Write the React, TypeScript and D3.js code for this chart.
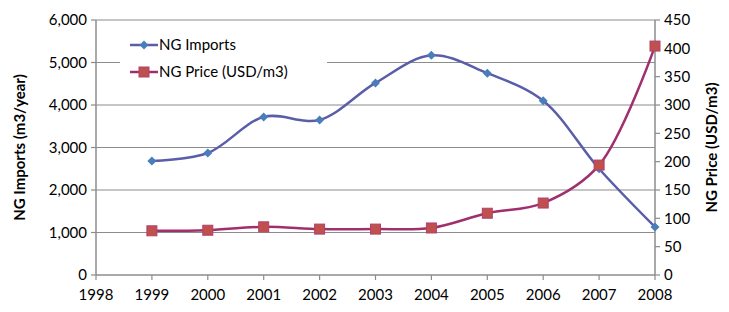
import React from "react";
import * as d3 from "d3";

const years = [1999, 2000, 2001, 2002, 2003, 2004, 2005, 2006, 2007, 2008];
const xTicks = [1998, 1999, 2000, 2001, 2002, 2003, 2004, 2005, 2006, 2007, 2008];
const imports = [2680, 2870, 3720, 3650, 4520, 5170, 4750, 4100, 2500, 1130];
const prices = [78, 79, 85, 81, 81, 83, 109, 127, 194, 404];
const leftTicks = [0, 1000, 2000, 3000, 4000, 5000, 6000];
const rightTicks = [0, 50, 100, 150, 200, 250, 300, 350, 400, 450];

const W = 729, H = 312;
const m = { left: 96, right: 74, top: 20, bottom: 37 };
const FONT = "Lato, 'Open Sans', sans-serif";

export default function App() {
  const x = d3.scaleLinear().domain([1998, 2008]).range([m.left, W - m.right]);
  const yL = d3.scaleLinear().domain([0, 6000]).range([H - m.bottom, m.top]);
  const yR = d3.scaleLinear().domain([0, 450]).range([H - m.bottom, m.top]);
  const fmt = d3.format(",");

  const lineImp = d3.line<number>()
    .x((_, i) => x(years[i]))
    .y(d => yL(d))
    .curve(d3.curveCatmullRom.alpha(0.5));
  const linePrice = d3.line<number>()
    .x((_, i) => x(years[i]))
    .y(d => yR(d))
    .curve(d3.curveCatmullRom.alpha(0.5));

  const impColor = "#5a5ea8";
  const impMarker = "#4a7ebb";
  const priceColor = "#a02f6e";
  const priceMarker = "#c0504d";
  const grid = "#8c8c8c";
  const x0 = m.left, x1 = W - m.right, yb = H - m.bottom;

  const diamond = (cx: number, cy: number, r = 4.5) =>
    `M${cx},${cy - r}L${cx + r},${cy}L${cx},${cy + r}L${cx - r},${cy}Z`;

  return (
    <svg width={W} height={H} style={{ position: "absolute", left: 0, top: 0, background: "#fff" }}
      fontFamily={FONT}>
      {/* gridlines */}
      {leftTicks.filter(t => t > 0).map(t => (
        <line key={t} x1={x0} x2={x1} y1={yL(t)} y2={yL(t)} stroke={grid} strokeWidth={1.2} />
      ))}
      {/* axes */}
      <line x1={x0} x2={x0} y1={m.top} y2={yb} stroke={grid} strokeWidth={1.5} />
      <line x1={x1} x2={x1} y1={m.top} y2={yb} stroke={grid} strokeWidth={1.5} />
      <line x1={x0} x2={x1} y1={yb} y2={yb} stroke={grid} strokeWidth={1.5} />
      {leftTicks.map(t => (
        <g key={t}>
          <line x1={x0 - 5} x2={x0} y1={yL(t)} y2={yL(t)} stroke={grid} strokeWidth={1.2} />
          <text x={x0 - 9} y={yL(t)} dy="0.35em" textAnchor="end" fontSize={15} fill="#000">{fmt(t)}</text>
        </g>
      ))}
      {rightTicks.map(t => (
        <g key={t}>
          <line x1={x1} x2={x1 + 5} y1={yR(t)} y2={yR(t)} stroke={grid} strokeWidth={1.2} />
          <text x={x1 + 9} y={yR(t)} dy="0.35em" textAnchor="start" fontSize={15} fill="#000">{t}</text>
        </g>
      ))}
      {xTicks.map(t => (
        <g key={t}>
          <line x1={x(t)} x2={x(t)} y1={yb} y2={yb + 5} stroke={grid} strokeWidth={1.2} />
          <text x={x(t)} y={yb + 25} textAnchor="middle" fontSize={15} fill="#000">{t}</text>
        </g>
      ))}
      {/* axis titles */}
      <text transform={`translate(25,${(m.top + yb) / 2}) rotate(-90)`} textAnchor="middle"
        fontSize={15} fontWeight="bold" fill="#000">NG Imports (m3/year)</text>
      <text transform={`translate(717,${(m.top + yb) / 2}) rotate(-90)`} textAnchor="middle"
        fontSize={15} fontWeight="bold" fill="#000">NG Price (USD/m3)</text>

      {/* legend */}
      <rect x={120} y={30} width={207} height={56} fill="#fff" />
      <line x1={130} x2={158} y1={45} y2={45} stroke={impColor} strokeWidth={2.5} />
      <path d={diamond(144, 45)} fill={impMarker} />
      <text x={159} y={45} dy="0.35em" fontSize={15} fill="#000">NG Imports</text>
      <line x1={130} x2={158} y1={72} y2={72} stroke={priceColor} strokeWidth={2.5} />
      <rect x={139} y={67} width={10} height={10} fill={priceMarker} stroke="#b0406a" strokeWidth={1} />
      <text x={159} y={72} dy="0.35em" fontSize={15} fill="#000">NG Price (USD/m3)</text>

      {/* series */}
      <path d={lineImp(imports) || ""} fill="none" stroke={impColor} strokeWidth={2.5} />
      {imports.map((v, i) => (
        <path key={i} d={diamond(x(years[i]), yL(v))} fill={impMarker} />
      ))}
      <path d={linePrice(prices) || ""} fill="none" stroke={priceColor} strokeWidth={2.5} />
      {prices.map((v, i) => (
        <rect key={i} x={x(years[i]) - 5} y={yR(v) - 5} width={10} height={10}
          fill={priceMarker} stroke="#b0406a" strokeWidth={1} />
      ))}
    </svg>
  );
}
